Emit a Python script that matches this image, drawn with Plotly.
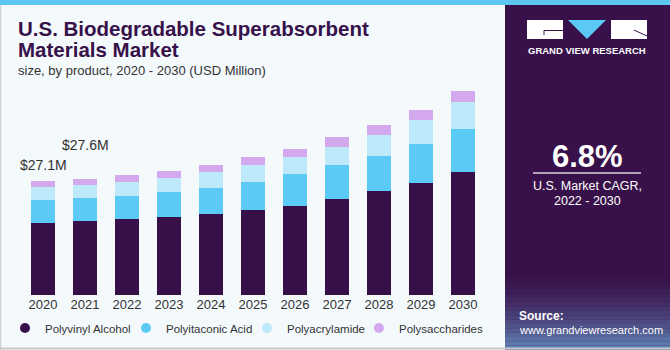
import plotly.graph_objects as go

W, H = 670, 350
ML, MR, MT, MB = 22, 186, 85, 55

years = ["2020", "2021", "2022", "2023", "2024", "2025", "2026", "2027", "2028", "2029", "2030"]
polyvinyl_alcohol = [17.15, 17.48, 17.96, 18.43, 19.28, 20.20, 21.18, 22.84, 24.67, 26.64, 29.10]
polyitaconic_acid = [5.38, 5.46, 5.60, 6.07, 6.17, 6.71, 7.45, 7.92, 8.23, 9.25, 10.20]
polyacrylamide = [3.01, 3.08, 3.25, 3.32, 3.65, 3.98, 4.10, 4.41, 5.05, 5.62, 6.40]
polysaccharides = [1.56, 1.58, 1.66, 1.59, 1.80, 1.87, 1.97, 2.23, 2.37, 2.37, 2.68]
label_years = ["2020", "2021"]
label_texts = ["$27.1M", "$27.6M"]

series = [
    ("Polyvinyl Alcohol", polyvinyl_alcohol, "#37104a"),
    ("Polyitaconic Acid", polyitaconic_acid, "#5bcbf5"),
    ("Polyacrylamide", polyacrylamide, "#bee9fa"),
    ("Polysaccharides", polysaccharides, "#d3a8ec"),
]
legend_dot_x = [28, 149, 270, 382]

PW = W - ML - MR
PH = H - MT - MB


def px(x):
    return (x - ML) / PW


def py(y):
    return (H - MB - y) / PH


fig = go.Figure()
for name, vals, col in series:
    fig.add_trace(go.Bar(x=years, y=vals, name=name, marker=dict(color=col, line=dict(width=0)),
                         showlegend=False, width=0.57))
legend_ids = ["legend", "legend2", "legend3", "legend4"]
for (name, vals, col), lid in zip(series, legend_ids):
    fig.add_trace(go.Scatter(x=[None], y=[None], mode="markers", name=name, legend=lid,
                             marker=dict(symbol="circle", size=10, color=col)))

stack_totals = [sum(v) for v in zip(polyvinyl_alcohol, polyitaconic_acid, polyacrylamide, polysaccharides)]
shifts = [6, 24]
for yr, txt, sh in zip(label_years, label_texts, shifts):
    i = years.index(yr)
    fig.add_annotation(xref="x", yref="y", x=i, y=stack_totals[i], text=txt, showarrow=False,
                       xanchor="center", yanchor="bottom", yshift=sh,
                       font=dict(size=14, color="#333333", family="Liberation Sans"))

shapes = []
# right dark panel
shapes.append(dict(type="rect", xref="paper", yref="paper", x0=px(505), x1=px(670), y0=py(350), y1=py(0),
                   fillcolor="#38114a", line=dict(width=0), layer="below"))
# gradient at bottom of panel
def hexc(c):
    return tuple(int(c[i:i + 2], 16) for i in (1, 3, 5))
c0, c1 = hexc("#38114a"), hexc("#6388bb")
n = 18
y_start, y_end = 272, 350
for i in range(n):
    t = ((i + 0.5) / n) ** 1.6
    col = "rgb(%d,%d,%d)" % tuple(round(a + (b - a) * t) for a, b in zip(c0, c1))
    ya = y_start + (y_end - y_start) * i / n
    yb = y_start + (y_end - y_start) * (i + 1) / n
    shapes.append(dict(type="rect", xref="paper", yref="paper", x0=px(505), x1=px(670), y0=py(yb), y1=py(ya),
                       fillcolor=col, line=dict(width=0), layer="below"))
# top stripe
shapes.append(dict(type="rect", xref="paper", yref="paper", x0=px(0), x1=px(670), y0=py(5), y1=py(0),
                   fillcolor="#5cc6f0", line=dict(width=0)))
# frame lines
shapes.append(dict(type="line", xref="paper", yref="paper", x0=px(0.5), x1=px(0.5), y0=py(350), y1=py(5),
                   line=dict(color="#cfcfcf", width=1.5)))
shapes.append(dict(type="line", xref="paper", yref="paper", x0=px(0), x1=px(670), y0=py(348.5), y1=py(348.5),
                   line=dict(color="#c8c8c8", width=2)))
# logo
shapes.append(dict(type="rect", xref="paper", yref="paper", x0=px(527), x1=px(563), y0=py(39), y1=py(20),
                   fillcolor="white", line=dict(width=0)))
shapes.append(dict(type="rect", xref="paper", yref="paper", x0=px(611), x1=px(647), y0=py(39), y1=py(20),
                   fillcolor="white", line=dict(width=0)))
shapes.append(dict(type="path", xref="paper", yref="paper",
                   path="M %f %f L %f %f L %f %f Z" % (px(568), py(20), px(606), py(20), px(587), py(39)),
                   fillcolor="#5bc8f5", line=dict(width=0)))
shapes.append(dict(type="line", xref="paper", yref="paper", x0=px(544), x1=px(563), y0=py(30.5), y1=py(30.5),
                   line=dict(color="#38114a", width=1)))
shapes.append(dict(type="line", xref="paper", yref="paper", x0=px(544), x1=px(544), y0=py(30.5), y1=py(35),
                   line=dict(color="#38114a", width=1)))
shapes.append(dict(type="line", xref="paper", yref="paper", x0=px(634), x1=px(647), y0=py(30), y1=py(36),
                   line=dict(color="#38114a", width=1)))
# CAGR rule
shapes.append(dict(type="line", xref="paper", yref="paper", x0=px(533), x1=px(641), y0=py(173), y1=py(173),
                   line=dict(color="#d8d0de", width=1.5)))

F = "Liberation Sans"
annots = [
    dict(text="<b>U.S. Biodegradable Superabsorbent</b>", x=px(16), y=py(28.5), font=dict(size=20.5, color="#37114a")),
    dict(text="<b>Materials Market</b>", x=px(16), y=py(50), font=dict(size=20.5, color="#37114a")),
    dict(text="size, by product, 2020 - 2030 (USD Million)", x=px(16), y=py(70), font=dict(size=13, color="#333333")),
    dict(text="<b>GRAND VIEW RESEARCH</b>", x=px(587), y=py(51), xanchor="center", font=dict(size=9.5, color="white")),
    dict(text="<b>6.8%</b>", x=px(587), y=py(156), xanchor="center", font=dict(size=31, color="white")),
    dict(text="U.S. Market CAGR,", x=px(587), y=py(186), xanchor="center", font=dict(size=12.5, color="white")),
    dict(text="2022 - 2030", x=px(587), y=py(201), xanchor="center", font=dict(size=12.5, color="white")),
    dict(text="<b>Source:</b>", x=px(517), y=py(316), font=dict(size=12, color="white")),
    dict(text="www.grandviewresearch.com", x=px(517), y=py(330), font=dict(size=11, color="white")),
]
for a in annots:
    a.setdefault("xanchor", "left")
    a["font"].setdefault("family", F)
    fig.add_annotation(xref="paper", yref="paper", yanchor="middle", showarrow=False, **a)

legend_style = dict(orientation="h", xref="container", yref="container", xanchor="left", yanchor="middle",
                    font=dict(size=11.5, color="#333333"), bgcolor="rgba(0,0,0,0)", itemclick=False,
                    itemdoubleclick=False)
legends = {}
for lid, dx in zip(legend_ids, legend_dot_x):
    legends[lid] = dict(legend_style, x=(dx - 23) / W, y=1 - 328 / H)

fig.update_layout(
    width=W, height=H, margin=dict(l=ML, r=MR, t=MT, b=MB, pad=0, autoexpand=False),
    barmode="stack", bargap=0.43,
    paper_bgcolor="#f4f9fc", plot_bgcolor="#f4f9fc",
    font=dict(family=F, color="#333333"),
    shapes=shapes,
    showlegend=True,
    xaxis=dict(type="category", range=[-0.5, 10.5], showgrid=False, showline=False, zeroline=False,
               ticks="", tickfont=dict(size=13, color="#333333"), fixedrange=True),
    yaxis=dict(range=[0, PH / 4.216], visible=False, showgrid=False, fixedrange=True),
    **legends,
)

fig.write_html("out.html")
